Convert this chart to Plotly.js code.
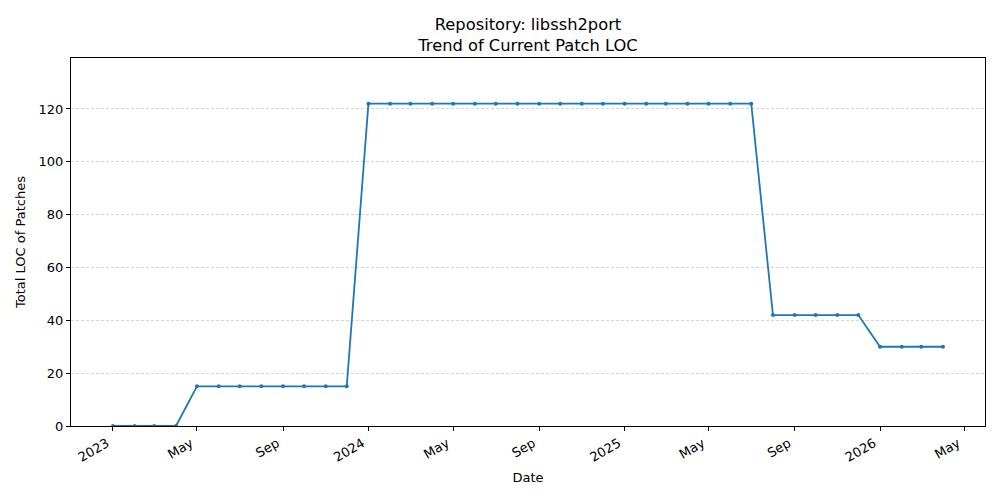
<!DOCTYPE html>
<html>
<head>
<meta charset="utf-8">
<script src="https://cdn.plot.ly/plotly-3.0.1.min.js"></script>
<style>
  html, body { margin: 0; padding: 0; background: #fff; }
  #chart { width: 1000px; height: 500px; }
</style>
</head>
<body>
<div id="chart"></div>
<script>
// Monthly snapshots of patch LOC
const dates = [
  '2023-01-01', '2023-02-01', '2023-03-01', '2023-04-01', '2023-05-01', '2023-06-01',
  '2023-07-01', '2023-08-01', '2023-09-01', '2023-10-01', '2023-11-01', '2023-12-01',
  '2024-01-01', '2024-02-01', '2024-03-01', '2024-04-01', '2024-05-01', '2024-06-01',
  '2024-07-01', '2024-08-01', '2024-09-01', '2024-10-01', '2024-11-01', '2024-12-01',
  '2025-01-01', '2025-02-01', '2025-03-01', '2025-04-01', '2025-05-01', '2025-06-01',
  '2025-07-01', '2025-08-01', '2025-09-01', '2025-10-01', '2025-11-01', '2025-12-01',
  '2026-01-01', '2026-02-01', '2026-03-01', '2026-04-01'
];
const loc = [
  0, 0, 0, 0, 15, 15,
  15, 15, 15, 15, 15, 15,
  122, 122, 122, 122, 122, 122,
  122, 122, 122, 122, 122, 122,
  122, 122, 122, 122, 122, 122,
  122, 42, 42, 42, 42, 42,
  30, 30, 30, 30
];

const tickVals = ['2023-01-01', '2023-05-01', '2023-09-01', '2024-01-01', '2024-05-01', '2024-09-01',
  '2025-01-01', '2025-05-01', '2025-09-01', '2026-01-01', '2026-05-01'];
const tickText = ['2023', 'May', 'Sep', '2024', 'May', 'Sep', '2025', 'May', 'Sep', '2026', 'May'];
const yTicks = [0, 20, 40, 60, 80, 100, 120];

const trace = {
  x: dates,
  y: loc,
  type: 'scatter',
  mode: 'lines+markers',
  line: { color: '#1f77b4', width: 1.8 },
  marker: { color: '#1f77b4', size: 4 },
  hoverinfo: 'x+y'
};

const layout = {
  width: 1000,
  height: 500,
  paper_bgcolor: '#fff',
  plot_bgcolor: '#fff',
  font: { family: 'DejaVu Sans, sans-serif', size: 13, color: '#000' },
  margin: { l: 71, r: 15, t: 58, b: 74 },
  showlegend: false,
  title: {
    text: 'Repository: libssh2port<br>Trend of Current Patch LOC',
    font: { size: 16.3, color: '#000' },
    x: 0.528, xanchor: 'center',
    yref: 'container',
    y: 0.94, yanchor: 'middle'
  },
  xaxis: {
    type: 'date',
    range: ['2022-11-02', '2026-05-31'],
    tickmode: 'array',
    tickvals: tickVals,
    ticktext: tickText,
    tickangle: -30,
    ticklabelshift: -6,
    ticks: 'outside',
    ticklen: 4,
    tickcolor: '#000',
    showgrid: false,
    zeroline: false,
    showline: true,
    linecolor: '#000',
    linewidth: 1,
    mirror: true,
    tickfont: { size: 13 },
    title: { text: 'Date', font: { size: 13 }, standoff: 9 }
  },
  yaxis: {
    range: [0, 139.3],
    tickmode: 'array',
    tickvals: yTicks,
    ticks: 'outside',
    ticklen: 4,
    tickcolor: '#000',
    showgrid: true,
    gridcolor: '#b8b8b8',
    gridwidth: 0.6,
    griddash: '3px,2px',
    zeroline: false,
    showline: true,
    linecolor: '#000',
    linewidth: 1,
    mirror: true,
    tickfont: { size: 13 },
    title: { text: 'Total LOC of Patches', font: { size: 13 }, standoff: 10 }
  }
};

Plotly.newPlot('chart', [trace], layout, { displayModeBar: false, staticPlot: true });
</script>
</body>
</html>
